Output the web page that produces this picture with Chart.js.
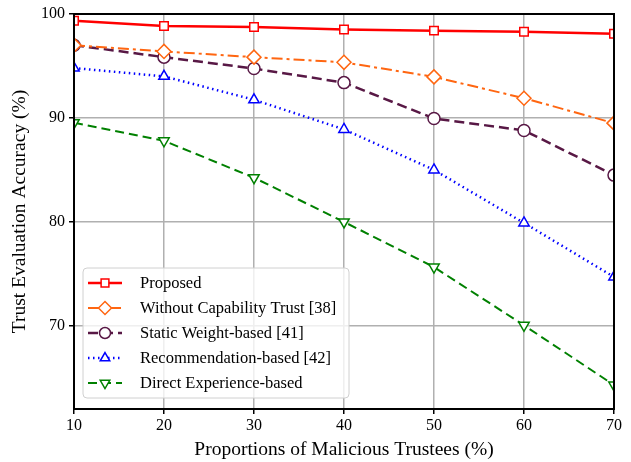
<!DOCTYPE html>
<html><head><meta charset="utf-8">
<script src="https://cdn.jsdelivr.net/npm/chart.js@4/dist/chart.umd.min.js"></script>
<style>html,body{margin:0;padding:0;background:#fff}#wrap{width:631px;height:462px}</style>
</head><body><div id="wrap"><canvas id="c" width="631" height="462"></canvas></div>
<script>
const categories = [10, 20, 30, 40, 50, 60, 70];
const proposed = [99.35, 98.85, 98.75, 98.5, 98.4, 98.3, 98.1];
const withoutCapability = [97.0, 96.4, 95.85, 95.35, 93.95, 91.9, 89.5];
const staticWeight = [97.0, 95.85, 94.75, 93.4, 89.95, 88.8, 84.5];
const recommendation = [94.8, 94.0, 91.75, 88.9, 85.0, 79.9, 74.7];
const directExperience = [89.55, 87.8, 84.25, 80.0, 75.65, 70.05, 64.3];
const yTicks = [70, 80, 90, 100];
const seriesNames = ['Proposed', 'Without Capability Trust [38]', 'Static Weight-based [41]', 'Recommendation-based [42]', 'Direct Experience-based'];

const FONT = "'Liberation Serif', 'Times New Roman', serif";
const pts = arr => categories.map((x, i) => ({x: x, y: arr[i]}));

function ds(label, data, color, dash, style, rot, radius, width) {
  return {label, data: pts(data), borderColor: color, backgroundColor: '#fff',
    borderWidth: width, borderDash: dash, pointStyle: style, rotation: rot,
    pointRadius: radius, pointHoverRadius: radius, pointBorderWidth: 1.5,
    pointBackgroundColor: '#fff', pointBorderColor: color, tension: 0, clip: 0, fill: false};
}

const datasets = [
  ds(seriesNames[0], proposed, '#ff0000', [], 'rect', 0, 6, 2.5),
  ds(seriesNames[1], withoutCapability, '#ff6611', [11, 4, 3, 4], 'rectRot', 0, 7, 2),
  ds(seriesNames[2], staticWeight, '#581845', [10, 5], 'circle', 0, 6, 2.5),
  ds(seriesNames[3], recommendation, '#0000ff', [1.5, 3.5], 'triangle', 0, 6, 2.5),
  ds(seriesNames[4], directExperience, '#008000', [9, 5], 'triangle', 180, 6, 2)
];

const framePlugin = {
  id: 'frame',
  afterDatasetsDraw(chart) {
    const {ctx, chartArea: a} = chart;
    ctx.save();
    ctx.strokeStyle = '#000'; ctx.lineWidth = 2;
    ctx.strokeRect(a.left, a.top, a.right - a.left, a.bottom - a.top);
    ctx.restore();
  }
};

const legendPlugin = {
  id: 'mplLegend',
  afterDraw(chart) {
    const ctx = chart.ctx;
    const bx = 83, by = 268, bw = 266, bh = 130, r = 4;
    ctx.save();
    ctx.beginPath();
    ctx.moveTo(bx + r, by); ctx.lineTo(bx + bw - r, by); ctx.quadraticCurveTo(bx + bw, by, bx + bw, by + r);
    ctx.lineTo(bx + bw, by + bh - r); ctx.quadraticCurveTo(bx + bw, by + bh, bx + bw - r, by + bh);
    ctx.lineTo(bx + r, by + bh); ctx.quadraticCurveTo(bx, by + bh, bx, by + bh - r);
    ctx.lineTo(bx, by + r); ctx.quadraticCurveTo(bx, by, bx + r, by);
    ctx.closePath();
    ctx.fillStyle = 'rgba(255,255,255,0.8)'; ctx.fill();
    ctx.strokeStyle = '#d0d0d0'; ctx.lineWidth = 1; ctx.stroke();
    chart.data.datasets.forEach((d, i) => {
      const y = 283 + i * 25;
      ctx.beginPath();
      ctx.setLineDash(d.borderDash);
      ctx.strokeStyle = d.borderColor; ctx.lineWidth = d.borderWidth;
      ctx.moveTo(88, y); ctx.lineTo(122, y); ctx.stroke();
      ctx.setLineDash([]);
      ctx.lineWidth = 1.5;
      ctx.fillStyle = '#fff'; ctx.strokeStyle = d.borderColor;
      Chart.helpers.drawPoint(ctx, {pointStyle: d.pointStyle, rotation: d.rotation, radius: d.pointRadius - 0.5, borderWidth: 1.5}, 105, y);
      ctx.fillStyle = '#000';
      ctx.font = '16.5px ' + FONT;
      ctx.textBaseline = 'middle';
      ctx.fillText(d.label, 140, y + 1);
    });
    ctx.restore();
  }
};

new Chart(document.getElementById('c'), {
  type: 'line',
  data: {datasets},
  options: {
    responsive: false, animation: false, devicePixelRatio: 1,
    layout: {padding: {top: 14, right: 17, left: 0, bottom: 0}},
    plugins: {legend: {display: false}, tooltip: {enabled: false}},
    scales: {
      x: {type: 'linear', min: 10, max: 70,
        afterFit(s) { s.height = 53; },
        afterBuildTicks(s) { s.ticks = categories.map(v => ({value: v})); },
        grid: {color: '#b0b0b0', lineWidth: 1.5, drawTicks: true, tickLength: 5, tickColor: '#000', tickWidth: 1.5},
        border: {display: false},
        ticks: {color: '#000', font: {family: FONT, size: 16}, padding: 2, maxRotation: 0},
        title: {display: true, text: 'Proportions of Malicious Trustees (%)', color: '#000', font: {family: FONT, size: 19.5}, padding: {top: 0, bottom: 0}}
      },
      y: {type: 'linear', min: 62, max: 100,
        afterFit(s) { s.width = 74; },
        afterBuildTicks(s) { s.ticks = yTicks.map(v => ({value: v})); },
        grid: {color: '#b0b0b0', lineWidth: 1.5, drawTicks: true, tickLength: 5, tickColor: '#000', tickWidth: 1.5},
        border: {display: false},
        ticks: {color: '#000', font: {family: FONT, size: 16}, padding: 4},
        title: {display: true, text: 'Trust Evaluation Accuracy (%)', color: '#000', font: {family: FONT, size: 19.5}, padding: {top: 8, bottom: 0}}
      }
    }
  },
  plugins: [framePlugin, legendPlugin]
});
</script></body></html>
